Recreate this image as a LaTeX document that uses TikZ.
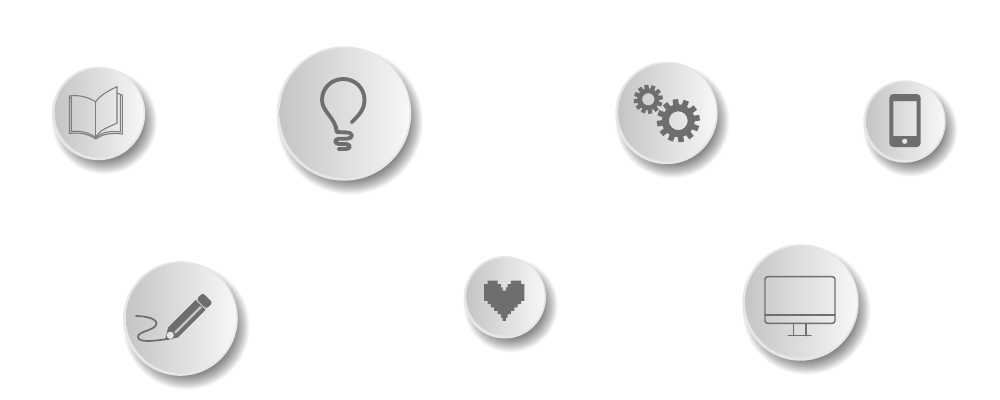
\documentclass[tikz,border=0pt]{standalone}
\definecolor{ico}{HTML}{6E6E6E}
\definecolor{rim}{HTML}{E6E6E6}
\tikzset{
  icoline/.style={draw=ico,line width=1.1pt,line cap=round,line join=round},
  icofill/.style={fill=ico,draw=none},
  face/.style={left color=black!23,right color=black!3,draw=none},
}
% cx cy r
\newcommand{\btn}[3]{%
  \foreach \k in {0,...,29}{
    \fill[black,opacity=0.019] ({#1+6},{#2+8}) circle ({#3+6-\k*0.55});
  }
  \fill[rim] (#1,#2) circle (#3);
  \shade[face] ({#1+0.6},{#2-0.6}) circle ({#3-2.2});
}
\newcommand{\gearicon}[6]{% cx cy outer root hole teethwidth
  \draw[ico,line width={(#4-#5)*0.75pt}] (#1,#2) circle ({(#4+#5)/2});
  \foreach \a in {0,30,...,330}{
    \fill[ico,shift={(#1,#2)},rotate=\a+8] ({#4-1},{-#6/2}) rectangle (#3,{#6/2});
  }
}
\begin{document}
\begin{tikzpicture}[x=0.75pt,y=-0.75pt]
\useasboundingbox (0,0) rectangle (1000,400);
\fill[white] (0,0) rectangle (1000,400);

\btn{98.5}{113.5}{46.7}
\btn{344}{113.5}{67.2}
\btn{666.5}{113}{51.2}
\btn{904.5}{121.5}{41.2}
\btn{180.5}{318.5}{57.3}
\btn{504.8}{297.3}{41.2}
\btn{800.5}{302.5}{58.2}

% book
\begin{scope}[draw=ico!90,line width=0.8pt,line join=round]
  \draw (95.7,101.7) .. controls (88,97) and (78,94.5) .. (69.5,96) -- (69.5,133.5)
        .. controls (79,132) and (89,134) .. (95.7,139);
  \draw (95.7,101.7) -- (95.7,138);
  \draw (95.7,101.7) .. controls (100,95) and (110,90) .. (117,86.7) -- (117,123.3)
        .. controls (108,127) and (100,130) .. (95.7,137);
  \draw (117,93) -- (122.3,95) -- (122.3,134)
        .. controls (112,132.5) and (102,134) .. (95.7,139);
  \draw (69.5,98) -- (71.3,97) -- (71.3,131.5) .. controls (81,130.5) and (89,132.5) .. (95.7,137.5);
  \draw (120.3,95) -- (120.3,132) .. controls (110,130.5) and (102,132.5) .. (95.7,137.5);
\end{scope}

% bulb
\draw[ico,line width=2.9pt,line cap=round,line join=round]
  (351.7,122.3) .. controls (358,116) and (364.5,110) .. (364.5,100)
  .. controls (364.5,88) and (355,79) .. (343.3,79)
  .. controls (331.5,79) and (322,88) .. (322,100)
  .. controls (322,112) and (336,118) .. (336.7,132)
  -- (347,132.5) .. controls (354,133) and (353,138.5) .. (347,138.7)
  -- (339,138.7) .. controls (334,139) and (334,144) .. (339,144)
  -- (346,144) .. controls (351,144.5) and (351,149) .. (346,149) -- (338.5,149);

% gears
\gearicon{648.3}{99.3}{14.5}{11}{6.2}{4.2}
\gearicon{678.3}{120.7}{21.5}{16.5}{9.5}{5.6}

% phone
\fill[ico,even odd rule,rounded corners=3pt]
  (889.3,94) rectangle (920.7,147)
  [sharp corners] (893.3,101) rectangle (916.7,136);
\fill[rim] (904.7,141.3) circle (2.6);

% pencil
\draw[ico,line width=1.3pt,line cap=round]
  (136,316) .. controls (146,316) and (159,319) .. (156,325)
  .. controls (153,331) and (138,331) .. (138,337)
  .. controls (138,343) and (155,341) .. (167,339);
\begin{scope}[shift={(166,339.5)},rotate=45]
  \fill[ico] (0,-1) -- (10,-7) -- (49,-7) -- (49,7) -- (10,7) -- (0,1) -- cycle;
  \fill[rim] (6,0) circle (3.6);
  \fill[black!22] (11,0.4) rectangle (48,2.8);
  \fill[rim!70!ico] (49,-7) rectangle (50.2,7);
  \fill[ico,rounded corners=2pt] (50.2,-7) rectangle (59,7);
\end{scope}

% heart
\fill[ico,shift={(484.2,280.7)},x=2.51pt,y=-2.51pt]
  (1,0)--(4,0)--(4,1)--(5,1)--(5,2)--(5.5,2)--(5.5,3)--(6.5,3)--(6.5,2)--(7,2)--(7,1)--(8,1)--(8,0)
  --(11,0)--(11,1)--(12,1)--(12,6)--(11,6)--(11,7)--(10,7)--(10,8)--(9,8)--(9,9)--(8,9)--(8,10)
  --(7,10)--(7,11)--(6.5,11)--(6.5,12)--(5.5,12)--(5.5,11)--(5,11)--(5,10)--(4,10)--(4,9)--(3,9)
  --(3,8)--(2,8)--(2,7)--(1,7)--(1,6)--(0,6)--(0,1)--(1,1)--cycle;

% monitor
\draw[icoline,rounded corners=2pt] (765,276.7) rectangle (835,323.3);
\draw[icoline] (765,315) -- (835,315);
\draw[icoline] (793.3,323.3) -- (793.3,335.7);
\draw[icoline] (806,323.3) -- (806,335.7);
\draw[icoline] (788.3,335.7) -- (811,335.7);
\end{tikzpicture}
\end{document}
